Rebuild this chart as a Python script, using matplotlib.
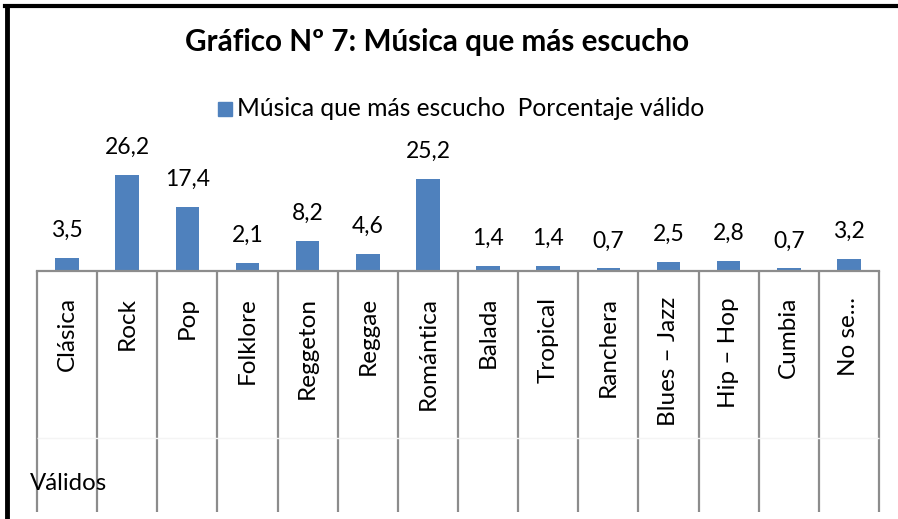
import matplotlib.pyplot as plt
import numpy as np

categorias = ['Clásica', 'Rock', 'Pop', 'Folklore', 'Reggeton', 'Reggae', 'Romántica',
              'Balada', 'Tropical', 'Ranchera', 'Blues – Jazz', 'Hip – Hop', 'Cumbia', 'No se...']
porcentaje = [3.5, 26.2, 17.4, 2.1, 8.2, 4.6, 25.2, 1.4, 1.4, 0.7, 2.5, 2.8, 0.7, 3.2]
etiquetas = ['3,5', '26,2', '17,4', '2,1', '8,2', '4,6', '25,2',
             '1,4', '1,4', '0,7', '2,5', '2,8', '0,7', '3,2']

plt.rcParams['font.family'] = ['Lato', 'DejaVu Sans']

W, H = 898, 519
fig = plt.figure(figsize=(W / 100, H / 100), dpi=100)

# plot area in pixels
x0, x1 = 37, 879
ybase, ytop = 271, 161
ax = fig.add_axes([x0 / W, 1 - ybase / H, (x1 - x0) / W, (ybase - ytop) / H])
ax.set_xlim(-0.5, len(categorias) - 0.5)
ax.set_ylim(0, 30)

x = np.arange(len(categorias))
ax.bar(x, porcentaje, width=0.39, color='#4F81BD')
for xi, v, t in zip(x, porcentaje, etiquetas):
    ax.annotate(t, (xi, v), xytext=(0, 17), textcoords='offset pixels',
                ha='center', va='bottom', fontsize=16.5, color='black')

for s in ['top', 'left', 'right']:
    ax.spines[s].set_visible(False)
ax.spines['bottom'].set_color('#8c8c8c')
ax.spines['bottom'].set_linewidth(1.6)
ax.set_xticks([])
ax.set_yticks([])

def yax(p):
    return (ybase - p) / (ybase - ytop)

tr = ax.get_xaxis_transform()
ax.vlines(np.arange(len(categorias) + 1) - 0.5, yax(512), 0, transform=tr,
          colors='#8c8c8c', linewidth=1.6, clip_on=False)
ax.hlines(yax(438), -0.5, len(categorias) - 0.5, transform=tr,
          colors='#f4f4f4', linewidth=1, clip_on=False)

for xi, c in zip(x, categorias):
    ax.text(xi, yax(297), c, transform=tr, rotation=90, ha='center', va='top',
            fontsize=17.5, clip_on=False)

fig.text(30 / W, 1 - 483 / H, 'Válidos', ha='left', va='center', fontsize=17.3)

fig.text(437 / W, 1 - 42 / H, 'Gráfico Nº 7: Música que más escucho',
         ha='center', va='center', fontsize=21.3, fontweight='bold')

fig.patches.append(plt.Rectangle((218 / W, 1 - 116 / H), 14 / W, 14 / H,
                                 transform=fig.transFigure, color='#4F81BD'))
fig.text(237 / W, 1 - 108 / H, 'Música que más escucho  Porcentaje válido',
         ha='left', va='center', fontsize=17.7)

# chart border (left and top)
fig.add_artist(plt.Line2D([7 / W, 7 / W], [0, 1 - 6 / H], color='black', linewidth=3.5,
                          transform=fig.transFigure))
fig.add_artist(plt.Line2D([5.3 / W, 1], [1 - 6 / H, 1 - 6 / H], color='black', linewidth=3,
                          transform=fig.transFigure))

fig.savefig('out.png', dpi=100)
